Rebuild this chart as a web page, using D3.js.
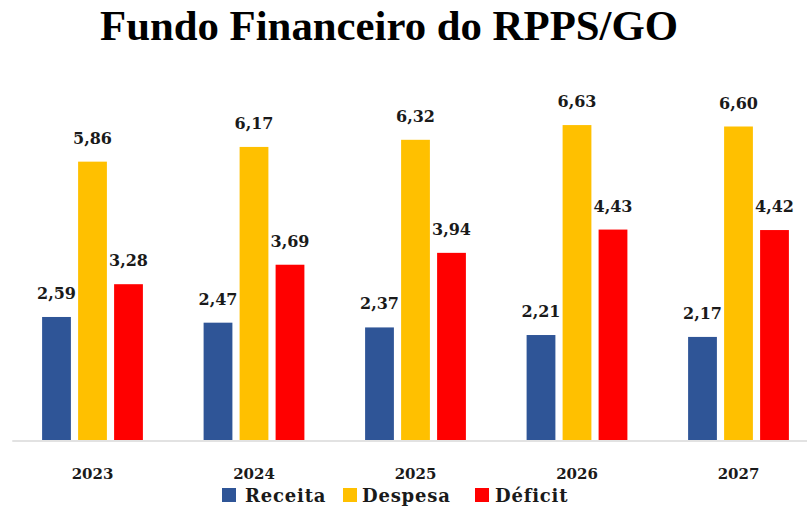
<!DOCTYPE html>
<html>
<head>
<meta charset="utf-8">
<script src="https://cdn.jsdelivr.net/npm/d3@7"></script>
<style>
  body { margin: 0; background: #fff; }
</style>
</head>
<body>
<script>
// data (R$ bilhões)
const years = ['2023', '2024', '2025', '2026', '2027'];
const receita = [2.59, 2.47, 2.37, 2.21, 2.17];
const despesa = [5.86, 6.17, 6.32, 6.63, 6.60];
const deficit = [3.28, 3.69, 3.94, 4.43, 4.42];
const seriesNames = ['Receita', 'Despesa', 'Déficit'];
const colors = ['#2F5597', '#FFC000', '#FF0000'];

const width = 807;
const height = 509;
const baseline = 440;

// build rows for the bars
const seriesValues = [receita, despesa, deficit];
const rows = [];
years.forEach((y, i) => {
  seriesNames.forEach((s, j) => {
    rows.push({ year: y, series: s, value: seriesValues[j][i] });
  });
});

// number format with comma as decimal mark
const fmt = d3.formatLocale({ decimal: ',', thousands: '.', grouping: [3], currency: ['R$', ''] }).format('.2f');

const svg = d3.select('body')
  .append('svg')
  .attr('width', width)
  .attr('height', height)
  .style('font-family', "'DejaVu Serif', serif");

// scales
const x0 = d3.scaleBand()
  .domain(years)
  .range([11.75, 819.25])
  .padding(0);

const x1 = d3.scaleBand()
  .domain(seriesNames)
  .range([x0.bandwidth() / 2 - 54, x0.bandwidth() / 2 + 54])
  .paddingInner(0.2)
  .paddingOuter(0.1);

const yScale = d3.scaleLinear()
  .domain([0, 7])
  .range([baseline, 107.5]);

const color = d3.scaleOrdinal().domain(seriesNames).range(colors);

// title
svg.append('text')
  .attr('x', 389)
  .attr('y', 40)
  .attr('text-anchor', 'middle')
  .style('font-family', "'Liberation Serif', serif")
  .style('font-weight', 'bold')
  .style('font-size', '42px')
  .attr('textLength', 578)
  .attr('lengthAdjust', 'spacingAndGlyphs')
  .text('Fundo Financeiro do RPPS/GO');

// bars
svg.append('g')
  .selectAll('rect')
  .data(rows)
  .join('rect')
  .attr('x', d => x0(d.year) + x1(d.series))
  .attr('y', d => yScale(d.value))
  .attr('width', x1.bandwidth())
  .attr('height', d => yScale(0) - yScale(d.value))
  .attr('fill', d => color(d.series));

// value labels
svg.append('g')
  .selectAll('text')
  .data(rows)
  .join('text')
  .attr('x', d => x0(d.year) + x1(d.series) + x1.bandwidth() / 2)
  .attr('y', d => yScale(d.value) - 18)
  .attr('text-anchor', 'middle')
  .style('font-weight', 'bold')
  .style('font-size', '16px')
  .attr('fill', '#1a1a1a')
  .text(d => fmt(d.value));

// x axis
const xAxis = d3.axisBottom(x0).tickSize(0).tickPadding(28);

const axisG = svg.append('g')
  .attr('transform', `translate(0, ${baseline + 0.5})`)
  .call(xAxis);

axisG.select('.domain')
  .attr('stroke', '#d9d9d9')
  .attr('stroke-width', 1.5);

axisG.selectAll('text')
  .style('font-family', "'DejaVu Serif', serif")
  .style('font-weight', 'bold')
  .style('font-size', '15px')
  .attr('fill', '#1a1a1a');

// legend
const legendX = [222, 343, 475];
const legend = svg.append('g')
  .selectAll('g')
  .data(seriesNames)
  .join('g')
  .attr('transform', (d, i) => `translate(${legendX[i]}, 488)`);

legend.append('rect')
  .attr('width', 14)
  .attr('height', 14)
  .attr('fill', d => color(d));

legend.append('text')
  .attr('x', (d, i) => [23, 19, 20][i])
  .attr('y', 14)
  .style('font-weight', 'bold')
  .style('font-size', '18px')
  .style('letter-spacing', '0.8px')
  .attr('fill', '#1a1a1a')
  .text(d => d);
</script>
</body>
</html>
